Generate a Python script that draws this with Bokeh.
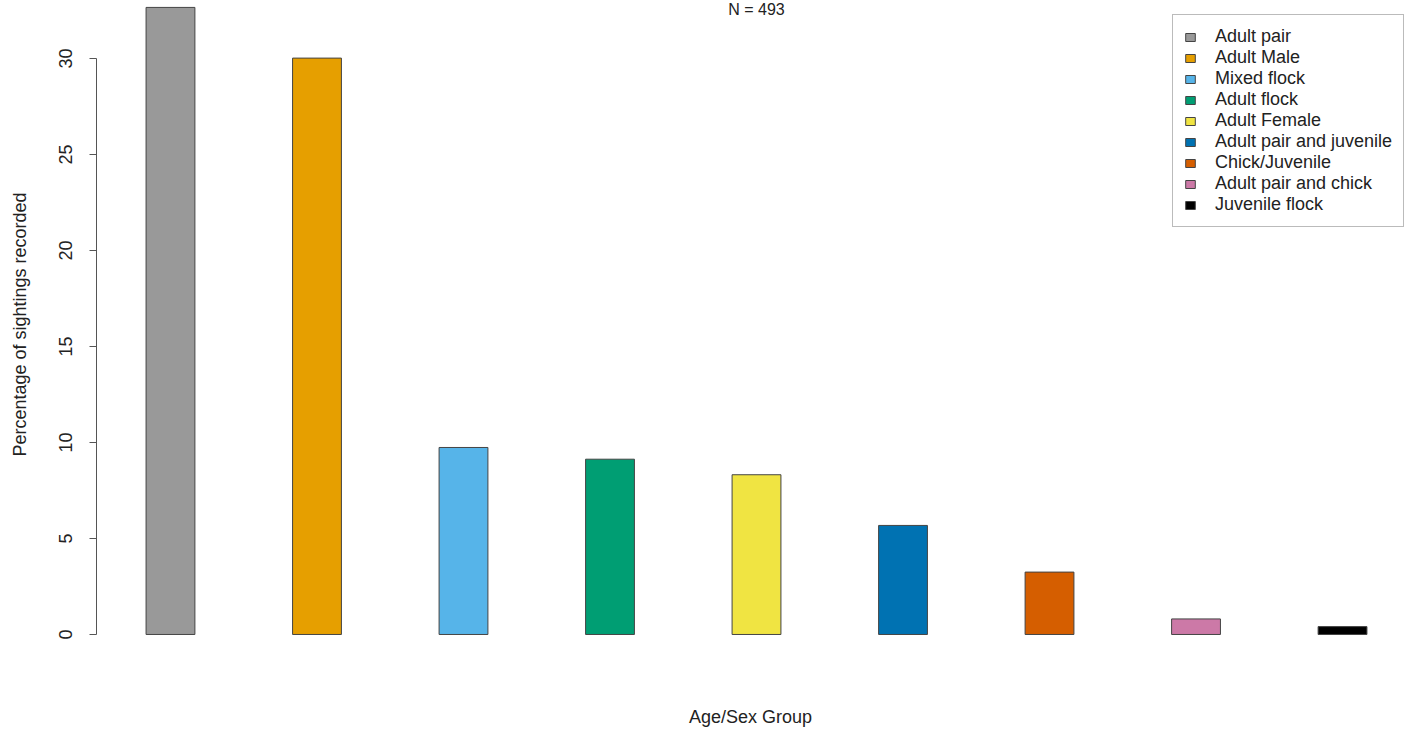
from bokeh.plotting import figure
from bokeh.models import Range1d, FixedTicker, Legend, LegendItem, Label
from bokeh.embed import file_html
from bokeh.resources import INLINE

# ---- data ----
groups = ["Adult pair", "Adult Male", "Mixed flock", "Adult flock", "Adult Female",
          "Adult pair and juvenile", "Chick/Juvenile", "Adult pair and chick", "Juvenile flock"]
percentages = [32.66, 30.02, 9.74, 9.13, 8.32, 5.68, 3.25, 0.81, 0.41]
colors = ["#999999", "#E69F00", "#56B4E9", "#009E73", "#F0E442",
          "#0072B2", "#D55E00", "#CC79A7", "#000000"]
y_ticks = [0, 5, 10, 15, 20, 25, 30]
title_text = "N = 493"

FONT = "Liberation Sans"
FS = "18px"

p = figure(width=1404, height=729, frame_width=1308, frame_height=648,
           output_backend="svg", toolbar_location=None,
           x_range=Range1d(0.495, 9.423), y_range=Range1d(-0.73, 33.02),
           min_border_left=96, min_border_right=0, min_border_top=0, min_border_bottom=20)
p.outline_line_color = None
p.grid.visible = False
p.background_fill_color = "white"

items = []
for i, (g, v, c) in enumerate(zip(groups, percentages, colors)):
    r = p.vbar(x=[i + 1], top=[v], bottom=0, width=1 / 3, fill_color=c,
               line_color="#444444", line_width=1)
    items.append(LegendItem(label=g, renderers=[r]))

# y axis (R style)
ya = p.yaxis[0]
ya.ticker = FixedTicker(ticks=y_ticks)
ya.bounds = (0, 30)
ya.major_label_orientation = "vertical"
ya.major_tick_in = 0
ya.major_tick_out = 7
ya.minor_tick_line_color = None
ya.axis_line_color = "#555555"
ya.major_tick_line_color = "#555555"
ya.major_label_standoff = 17
ya.major_label_text_font = FONT
ya.major_label_text_font_size = FS
ya.major_label_text_color = "#222222"
ya.axis_label = "Percentage of sightings recorded"
ya.axis_label_text_font = FONT
ya.axis_label_text_font_size = FS
ya.axis_label_text_font_style = "normal"
ya.axis_label_text_color = "#222222"
ya.axis_label_standoff = 27

# x axis: label only
xa = p.xaxis[0]
xa.ticker = FixedTicker(ticks=[])
xa.axis_line_color = None
xa.major_tick_line_color = None
xa.minor_tick_line_color = None
xa.major_tick_out = 0
xa.major_label_standoff = 0
xa.axis_label = "Age/Sex Group"
xa.axis_label_text_font = FONT
xa.axis_label_text_font_size = FS
xa.axis_label_text_font_style = "normal"
xa.axis_label_text_color = "#222222"
xa.axis_label_standoff = 58

legend = Legend(items=items, location=(1076, 421),
                border_line_color="#777777", border_line_width=1,
                label_text_font=FONT, label_text_font_size=FS, label_text_color="#222222",
                glyph_width=12, glyph_height=10, label_standoff=19,
                label_height=21, spacing=0, padding=11)
p.add_layout(legend, "center")

p.add_layout(Label(x=5, y=33.02, text=title_text, text_align="center", text_baseline="top",
                   text_font=FONT, text_font_size="16px", text_color="#222222"))

open("out.html", "w").write(file_html(p, INLINE))
